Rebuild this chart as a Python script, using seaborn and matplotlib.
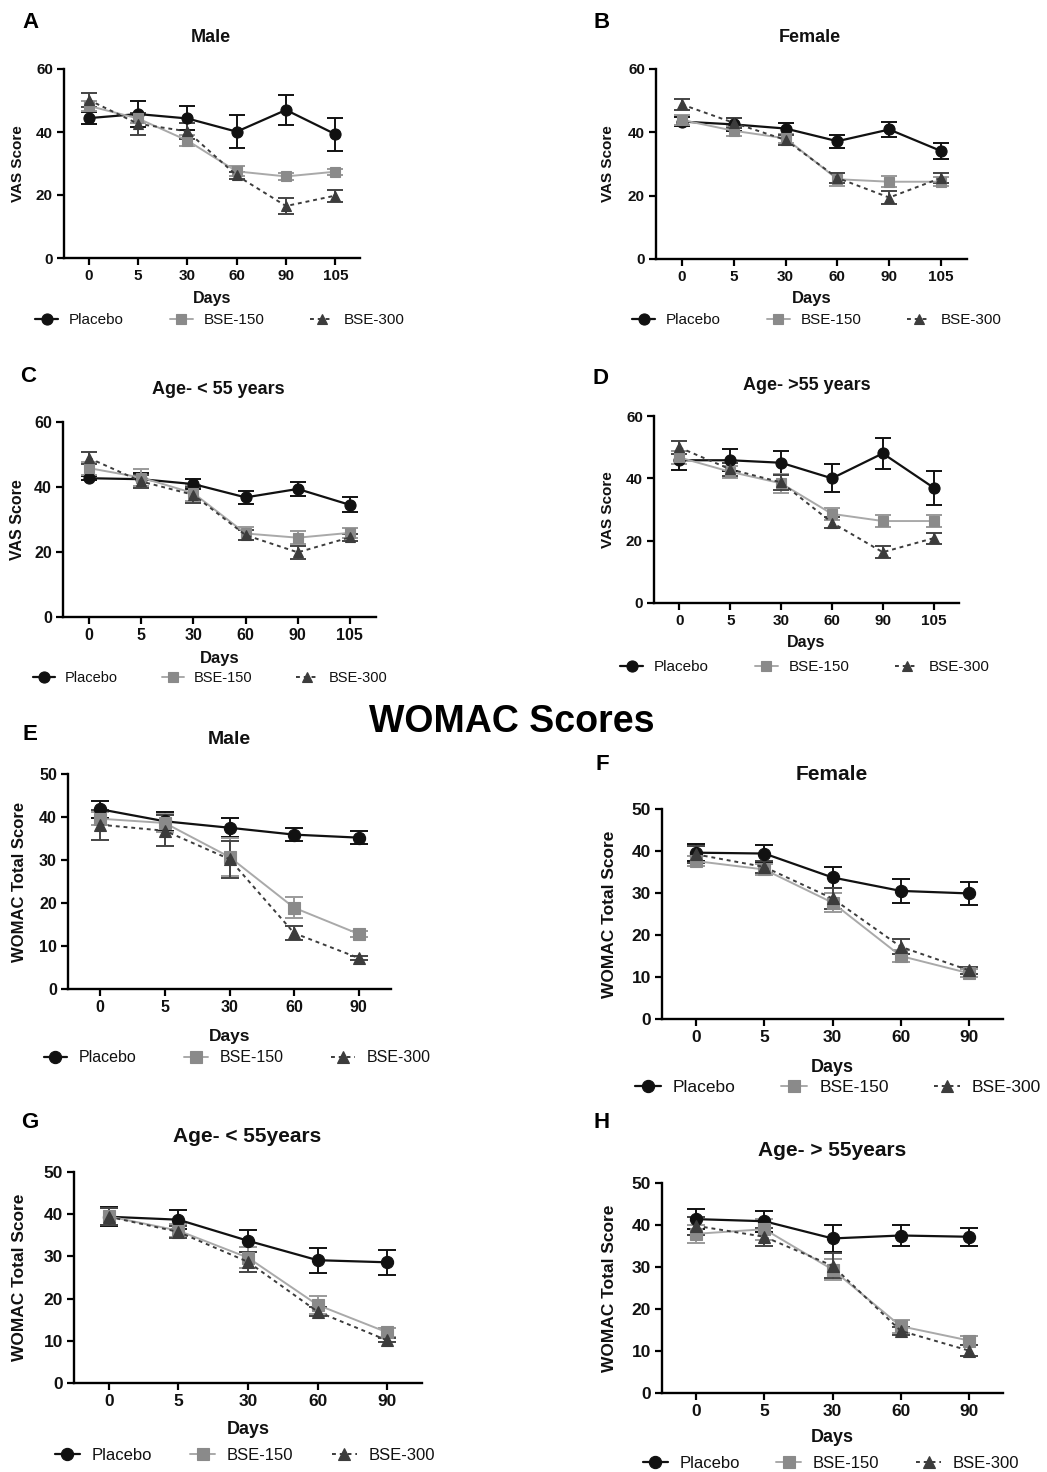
import numpy as np
import matplotlib
matplotlib.use("Agg")
import matplotlib.pyplot as plt
import seaborn as sns

sns.set_theme(style="ticks")
plt.rcParams['font.family'] = ['Liberation Sans', 'DejaVu Sans']

W, H = 1047, 1472

days_vas = ["0", "5", "30", "60", "90", "105"]
days_womac = ["0", "5", "30", "60", "90"]
groups = ["Placebo", "BSE-150", "BSE-300"]

# ---- VAS: A Male ----
A_placebo = [44.4, 45.7, 44.3, 40.1, 47.0, 39.3]
A_placebo_err = [1.8, 4.2, 3.8, 5.3, 4.8, 5.2]
A_bse150 = [48.3, 44.3, 37.3, 27.5, 25.9, 27.4]
A_bse150_err = [1.6, 1.5, 1.6, 1.6, 1.2, 1.0]
A_bse300 = [50.2, 42.6, 40.2, 26.2, 16.5, 19.8]
A_bse300_err = [2.3, 3.5, 2.5, 1.2, 2.4, 1.9]

# ---- VAS: B Female ----
B_placebo = [43.4, 42.5, 41.2, 37.2, 40.9, 34.1]
B_placebo_err = [1.5, 2.0, 1.8, 2.0, 2.3, 2.6]
B_bse150 = [43.9, 40.5, 38.1, 25.2, 24.4, 24.4]
B_bse150_err = [1.5, 1.5, 1.5, 2.0, 1.8, 1.5]
B_bse300 = [48.8, 43.0, 37.6, 25.6, 19.4, 25.6]
B_bse300_err = [1.6, 1.5, 1.5, 1.5, 2.0, 1.5]

# ---- VAS: C Age < 55 ----
C_placebo = [42.7, 42.4, 40.9, 36.8, 39.4, 34.5]
C_placebo_err = [0.7, 2.0, 1.5, 2.0, 2.2, 2.3]
C_bse150 = [45.8, 42.9, 38.1, 25.7, 24.4, 25.9]
C_bse150_err = [2.0, 2.5, 2.5, 2.0, 2.0, 1.5]
C_bse300 = [48.9, 41.7, 37.6, 25.2, 19.9, 24.5]
C_bse300_err = [1.8, 2.0, 2.5, 1.5, 2.0, 1.0]

# ---- VAS: D Age > 55 ----
D_placebo = [45.8, 45.8, 45.0, 40.0, 48.0, 37.0]
D_placebo_err = [3.0, 3.5, 3.8, 4.5, 5.0, 5.5]
D_bse150 = [46.7, 42.1, 38.4, 28.6, 26.3, 26.3]
D_bse150_err = [2.0, 2.0, 3.0, 2.0, 1.8, 1.8]
D_bse300 = [49.9, 42.9, 38.7, 25.8, 16.3, 20.8]
D_bse300_err = [2.0, 2.0, 2.5, 1.8, 2.0, 1.8]

# ---- WOMAC: E Male ----
E_placebo = [41.8, 39.0, 37.5, 35.9, 35.2]
E_placebo_err = [2.0, 2.2, 2.2, 1.5, 1.5]
E_bse150 = [39.6, 38.6, 30.7, 18.9, 12.8]
E_bse150_err = [1.5, 2.0, 4.5, 2.5, 0.8]
E_bse300 = [38.2, 36.8, 30.2, 13.0, 7.2]
E_bse300_err = [3.5, 3.6, 4.3, 1.6, 0.5]

# ---- WOMAC: F Female ----
F_placebo = [39.6, 39.4, 33.7, 30.5, 29.9]
F_placebo_err = [2.0, 2.0, 2.4, 2.8, 2.8]
F_bse150 = [37.6, 35.6, 27.7, 15.0, 10.9]
F_bse150_err = [1.2, 1.2, 2.2, 1.5, 1.0]
F_bse300 = [39.2, 36.2, 28.7, 17.2, 11.6]
F_bse300_err = [2.0, 1.5, 2.5, 1.8, 0.8]

# ---- WOMAC: G Age < 55 ----
G_placebo = [39.4, 38.7, 33.7, 29.1, 28.6]
G_placebo_err = [2.3, 2.2, 2.6, 3.0, 3.0]
G_bse150 = [39.5, 36.1, 29.7, 18.5, 12.0]
G_bse150_err = [2.0, 1.5, 2.5, 2.2, 1.0]
G_bse300 = [39.4, 35.8, 28.7, 16.9, 10.1]
G_bse300_err = [2.0, 1.5, 2.3, 1.0, 0.5]

# ---- WOMAC: H Age > 55 ----
H_placebo = [41.4, 40.9, 36.8, 37.5, 37.2]
H_placebo_err = [2.3, 2.5, 3.2, 2.5, 2.2]
H_bse150 = [37.9, 39.0, 29.4, 15.9, 12.5]
H_bse150_err = [2.2, 2.5, 2.5, 1.5, 1.0]
H_bse300 = [39.8, 37.2, 30.3, 14.8, 10.1]
H_bse300_err = [2.2, 2.2, 3.0, 1.0, 1.3]

fig = plt.figure(figsize=(W / 100, H / 100), dpi=100)

styles = {
    "Placebo": dict(color="#111111", mfc="#111111", marker="o", ls="-", lw=1.6, ms=8.0, ecol="#111111"),
    "BSE-150": dict(color="#a9a9a9", mfc="#8a8a8a", marker="s", ls="-", lw=1.4, ms=7.5, ecol="#9a9a9a"),
    "BSE-300": dict(color="#3c3c3c", mfc="#3c3c3c", marker="^", ls=(0, (2.0, 2.0)), lw=1.4, ms=7.5, ecol="#444444"),
}

panels = [
    dict(letter="A", title="Male", days=days_vas,
         data=[(A_placebo, A_placebo_err), (A_bse150, A_bse150_err), (A_bse300, A_bse300_err)],
         ylabel="VAS Score", ymax=60, ystep=20, rect=(64, 69, 360, 258),
         tpos=(211, 37), lpos=(30, 22), ylx=18, daysy=298, leg=(220, 320),
         fs=dict(tick=11, lab=11, days=11.5, title=13, leg=11, scale=1.0, cs=3.0)),
    dict(letter="B", title="Female", days=days_vas,
         data=[(B_placebo, B_placebo_err), (B_bse150, B_bse150_err), (B_bse300, B_bse300_err)],
         ylabel="VAS Score", ymax=60, ystep=20, rect=(656, 69, 967, 259),
         tpos=(810, 37), lpos=(602, 22), ylx=608, daysy=299, leg=(817, 320),
         fs=dict(tick=11, lab=11, days=12, title=13, leg=11, scale=1.0, cs=3.0)),
    dict(letter="C", title="Age- < 55 years", days=days_vas,
         data=[(C_placebo, C_placebo_err), (C_bse150, C_bse150_err), (C_bse300, C_bse300_err)],
         ylabel="VAS Score", ymax=60, ystep=20, rect=(63, 422, 376, 617),
         tpos=(218, 390), lpos=(28, 377), ylx=18, daysy=659, leg=(210, 678),
         fs=dict(tick=11.5, lab=11.5, days=12, title=13, leg=10.5, scale=1.0, cs=3.0)),
    dict(letter="D", title="Age- >55 years", days=days_vas,
         data=[(D_placebo, D_placebo_err), (D_bse150, D_bse150_err), (D_bse300, D_bse300_err)],
         ylabel="VAS Score", ymax=60, ystep=20, rect=(654, 416, 959, 603),
         tpos=(807, 385), lpos=(600, 378), ylx=608, daysy=643, leg=(805, 667),
         fs=dict(tick=11, lab=11, days=11.5, title=13, leg=11, scale=1.0, cs=3.0)),
    dict(letter="E", title="Male", days=days_womac,
         data=[(E_placebo, E_placebo_err), (E_bse150, E_bse150_err), (E_bse300, E_bse300_err)],
         ylabel="WOMAC Total Score", ymax=50, ystep=10, rect=(68, 774, 391, 989),
         tpos=(229, 740), lpos=(30, 735), ylx=20, daysy=1037, leg=(237, 1058),
         fs=dict(tick=11.5, lab=12, days=12.5, title=14, leg=11.5, scale=1.1, cs=3.0)),
    dict(letter="F", title="Female", days=days_womac,
         data=[(F_placebo, F_placebo_err), (F_bse150, F_bse150_err), (F_bse300, F_bse300_err)],
         ylabel="WOMAC Total Score", ymax=50, ystep=10, rect=(662, 809, 1003, 1019),
         tpos=(832, 774), lpos=(602, 765), ylx=610, daysy=1067, leg=(838, 1087),
         fs=dict(tick=12.5, lab=12.5, days=13, title=15, leg=12.5, scale=1.1, cs=2.6)),
    dict(letter="G", title="Age- < 55years", days=days_womac,
         data=[(G_placebo, G_placebo_err), (G_bse150, G_bse150_err), (G_bse300, G_bse300_err)],
         ylabel="WOMAC Total Score", ymax=50, ystep=10, rect=(74, 1172, 422, 1383),
         tpos=(247, 1136), lpos=(30, 1123), ylx=20, daysy=1430, leg=(245, 1455),
         fs=dict(tick=12.5, lab=12.5, days=13, title=15, leg=12.0, scale=1.1, cs=2.3)),
    dict(letter="H", title="Age- > 55years", days=days_womac,
         data=[(H_placebo, H_placebo_err), (H_bse150, H_bse150_err), (H_bse300, H_bse300_err)],
         ylabel="WOMAC Total Score", ymax=50, ystep=10, rect=(662, 1183, 1003, 1393),
         tpos=(832, 1150), lpos=(602, 1122), ylx=610, daysy=1438, leg=(831, 1463),
         fs=dict(tick=12.5, lab=12.5, days=13, title=15, leg=12.0, scale=1.1, cs=2.2)),
]


def fx(px):
    return px / W


def fy(py):
    return 1 - py / H


for p in panels:
    l, t, r, b = p["rect"]
    ax = fig.add_axes([fx(l), fy(b), (r - l) / W, (b - t) / H])
    fs = p["fs"]
    sc = fs["scale"]
    pos = np.arange(len(p["days"]))
    handles = []
    for g, (vals, errs) in zip(groups, p["data"]):
        st = styles[g]
        ax.errorbar(pos, vals, yerr=errs, fmt="none", ecolor=st["ecol"],
                    elinewidth=1.4, capsize=6 * sc, capthick=1.4, zorder=2)
        sns.lineplot(x=pos, y=vals, ax=ax, color=st["color"], marker=st["marker"],
                     markersize=st["ms"] * sc, markerfacecolor=st["mfc"],
                     markeredgecolor=st["mfc"], markeredgewidth=0.8,
                     linewidth=st["lw"], linestyle=st["ls"], legend=False, zorder=3)
        line = ax.lines[-1]
        line.set_label(g)
        handles.append(line)

    n = len(p["days"])
    ax.set_xlim(-0.5, n - 0.5)
    ax.set_ylim(0, p["ymax"])
    ax.set_xticks(pos, p["days"])
    ax.set_yticks(np.arange(0, p["ymax"] + 1, p["ystep"]))
    for s in ["top", "right"]:
        ax.spines[s].set_visible(False)
    for s in ["left", "bottom"]:
        ax.spines[s].set_linewidth(1.7)
        ax.spines[s].set_color("black")
    ax.tick_params(axis="both", direction="out", length=5, width=1.6, color="black",
                   labelsize=fs["tick"], labelcolor="#111111", pad=3)
    for lab in ax.get_xticklabels() + ax.get_yticklabels():
        lab.set_fontweight("bold")
    ax.grid(False)

    ax.set_xlabel("Days", fontsize=fs["days"], fontweight="bold", color="#111111", va="center")
    ax.xaxis.set_label_coords(0.5, (b - p["daysy"]) / (b - t))
    ax.set_ylabel(p["ylabel"], fontsize=fs["lab"], fontweight="bold", color="#111111", va="center")
    ax.yaxis.set_label_coords((p["ylx"] - l) / (r - l), 0.5)

    ax.legend(handles=handles, labels=groups, loc="center",
              bbox_to_anchor=(fx(p["leg"][0]), fy(p["leg"][1])), bbox_transform=fig.transFigure,
              ncol=3, frameon=False, fontsize=fs["leg"], columnspacing=fs["cs"],
              handlelength=1.5, handletextpad=0.7, borderpad=0, labelcolor="#111111")

    fig.text(fx(p["tpos"][0]), fy(p["tpos"][1]), p["title"], ha="center", va="center",
             fontsize=fs["title"], fontweight="bold", color="#111111")
    fig.text(fx(p["lpos"][0]), fy(p["lpos"][1]), p["letter"], ha="center", va="center",
             fontsize=16, fontweight="bold", color="#000000")

fig.text(fx(512), fy(722), "WOMAC Scores", ha="center", va="center",
         fontsize=27, fontweight="bold", color="#000000")

fig.savefig("out.png", dpi=100, facecolor="white")
